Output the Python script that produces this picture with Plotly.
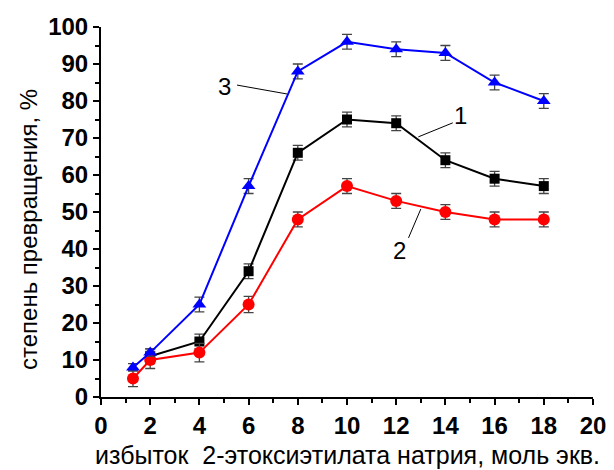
import plotly.graph_objects as go

x_1 = [2, 4, 6, 8, 10, 12, 14, 16, 18]
y_1 = [11, 15, 34, 66, 75, 74, 64, 59, 57]
e_1 = [2, 2, 2, 2, 2, 2, 2, 2, 2]

x_2 = [1.3, 2, 4, 6, 8, 10, 12, 14, 16, 18]
y_2 = [5, 10, 12, 25, 48, 57, 53, 50, 48, 48]
e_2 = [2.2, 2.3, 2.5, 2.2, 2, 2, 2, 2, 2, 2]

x_3 = [1.3, 2, 4, 6, 8, 10, 12, 14, 16, 18]
y_3 = [8, 12, 25, 57, 88, 96, 94, 93, 85, 80]
e_3 = [1, 1, 2, 2, 2, 2, 2, 2, 2, 2]

x_ticks = [0, 2, 4, 6, 8, 10, 12, 14, 16, 18, 20]
y_ticks = [0, 10, 20, 30, 40, 50, 60, 70, 80, 90, 100]

labels = ["1", "2", "3"]
x_title = "избыток  2-этоксиэтилата натрия, моль экв."
y_title = "степень превращения, %"

FONT = "Liberation Sans, Arial, sans-serif"
ERR = "#444444"

fig = go.Figure()

def add(x, y, e, color, symbol, size):
    fig.add_trace(go.Scatter(
        x=x, y=y, mode="lines+markers",
        line=dict(color=color, width=2),
        marker=dict(color=color, symbol=symbol, size=size),
        error_y=dict(type="data", array=e, visible=True, color=ERR, thickness=1.3, width=5),
        showlegend=False, cliponaxis=False))

add(x_1, y_1, e_1, "black", "square", 10)
add(x_2, y_2, e_2, "red", "circle", 12)
add(x_3, y_3, e_3, "blue", "triangle-up", 12)

# label leader lines
for (x0, y0, x1, y1) in [(14.3, 74.1, 12.9, 70.3), (12.5, 43, 13.0, 50.8), (5.53, 84.3, 7.56, 81.9)]:
    fig.add_shape(type="line", x0=x0, y0=y0, x1=x1, y1=y1, xref="x", yref="y",
                  line=dict(color="black", width=1))

for lab, (lx, ly) in zip(labels, [(14.6, 76), (12.15, 39.7), (5.0, 84)]):
    fig.add_annotation(x=lx, y=ly, text=lab, showarrow=False, xref="x", yref="y",
                       font=dict(family=FONT, size=24, color="black"))

# page has an 8px body margin; lay the figure out in window pixels minus that offset
OFF = 8
W, H = 614 - OFF, 470 - OFF
L, R, T, B = 101 - OFF, 21, 27 - OFF, 73
pw, ph = W - L - R, H - T - B

def px(xw):
    return (xw - OFF - L) / pw

def py(yw):
    return (H - B - (yw - OFF)) / ph

fig.add_annotation(x=px(347), y=py(455), xref="paper", yref="paper", text=x_title, showarrow=False,
                   xanchor="center", yanchor="middle",
                   font=dict(family=FONT, size=25, color="black"))
fig.add_annotation(x=px(29), y=py(230), xref="paper", yref="paper", text=y_title, showarrow=False,
                   textangle=-90, xanchor="center", yanchor="middle",
                   font=dict(family=FONT, size=24, color="black"))

axis_common = dict(showline=True, linecolor="black", linewidth=2, ticks="outside",
                   ticklen=6, tickwidth=2, tickcolor="black", showgrid=False, zeroline=False,
                   automargin=False,
                   tickfont=dict(family=FONT, size=24, color="black"))

fig.update_xaxes(range=[0, 20], tickvals=x_ticks, ticktext=["<b>%d</b>" % v for v in x_ticks],
                 minor=dict(dtick=1, ticks="outside", ticklen=4, tickwidth=1.5, tickcolor="black"),
                 **axis_common)
fig.update_yaxes(range=[0, 100], tickvals=y_ticks, ticktext=["<b>%d</b>" % v for v in y_ticks],
                 minor=dict(dtick=5, ticks="outside", ticklen=4, tickwidth=1.5, tickcolor="black"),
                 **axis_common)

fig.update_layout(width=W, height=H, plot_bgcolor="white", paper_bgcolor="white",
                  margin=dict(l=L, r=R, t=T, b=B))

fig.write_html("out.html")
